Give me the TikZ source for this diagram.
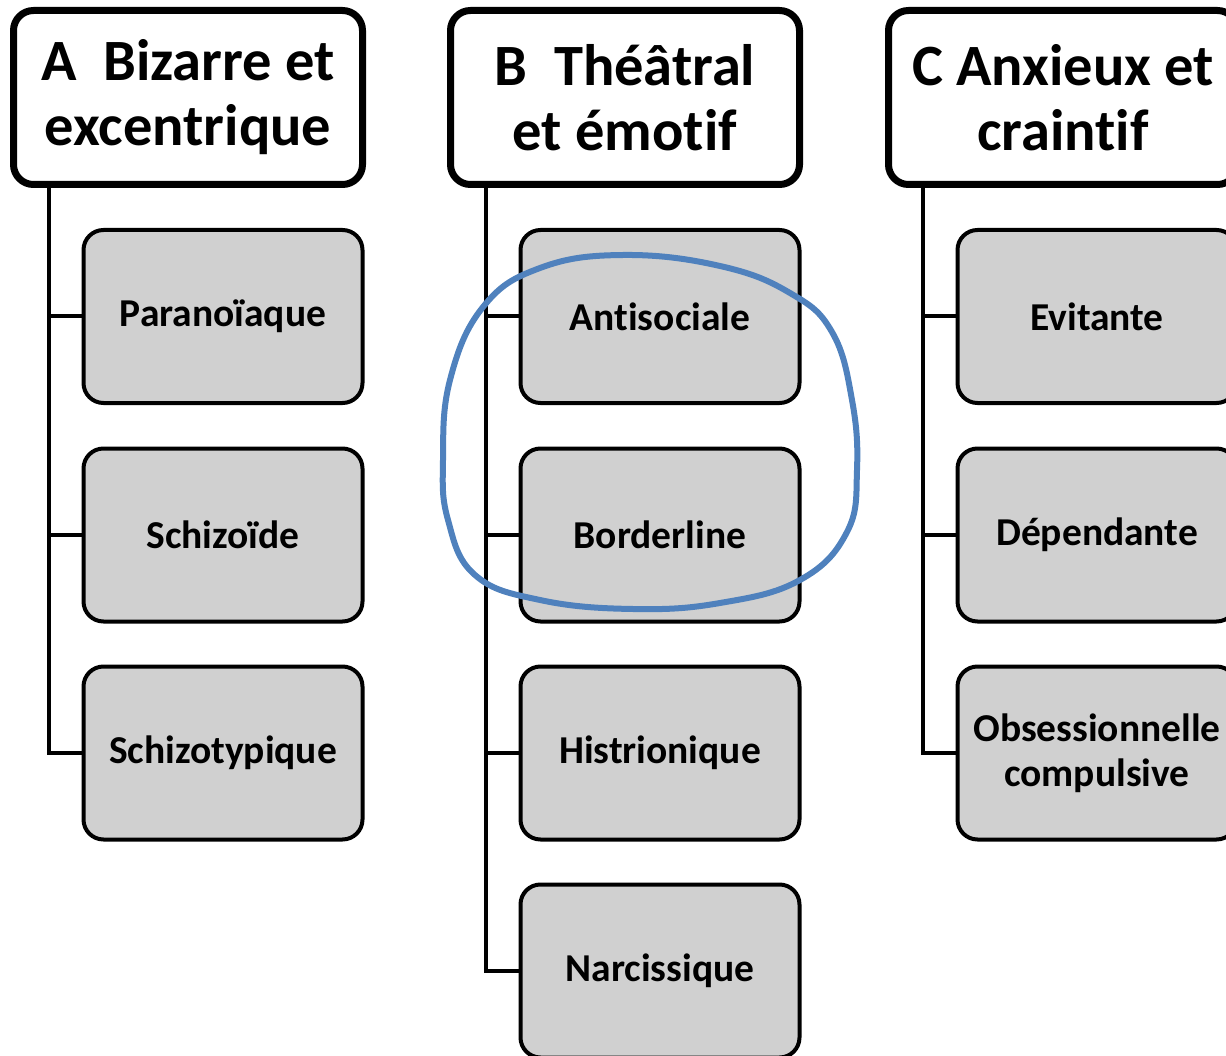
\documentclass[tikz,border=0pt]{standalone}
\usepackage{fontspec}
\setmainfont[Ligatures=NoCommon]{Carlito}
\begin{document}
\begin{tikzpicture}[x=1pt,y=-1pt,
  hdr/.style={draw=black, line width=7pt, rounded corners=20pt, fill=white,
    minimum width=349pt, minimum height=174pt, inner sep=0pt, align=center,
    font=\bfseries\fontsize{58.5}{65}\selectfont},
  item/.style={draw=black, line width=4pt, rounded corners=20pt, fill=boxgray,
    minimum width=279pt, minimum height=173pt, inner sep=0pt, align=center,
    font=\bfseries\fontsize{39.5}{45}\selectfont},
  bus/.style={draw=black, line width=4pt, line join=miter}
]
\definecolor{boxgray}{RGB}{208,208,208}
\definecolor{circblue}{RGB}{79,129,189}
\clip (0,0) rectangle (1226,1056);
\fill[white] (0,0) rectangle (1226,1056);

% column coordinates for the buses
\coordinate (xA) at (49,0);
\coordinate (xB) at (486,0);
\coordinate (xC) at (923,0);

% headers
\node[hdr] (hA) at (188,97.5) {A\ \ Bizarre et\\excentrique};
\node[hdr] (hB) at (625,97.5) {B\ \ Théâtral\\et émotif};
\node[hdr] (hC) at (1063,97.5) {C Anxieux et\\craintif};

% column A
\node[item] (a1) at (223,316.5) {Paranoïaque};
\node[item] (a2) at (223,535) {Schizoïde};
\node[item] (a3) at (223,753) {Schizotypique};

% column B
\node[item] (b1) at (660,316.5) {Antisociale};
\node[item] (b2) at (660,535) {Borderline};
\node[item] (b3) at (660,753) {Histrionique};
\node[item] (b4) at (660,971) {Narcissique};

% column C
\node[item] (c1) at (1097,316.5) {Evitante};
\node[item] (c2) at (1097,535) {Dépendante};
\node[item] (c3) at (1097,753) {Obsessionnelle\\compulsive};

% buses
\draw[bus] (xA |- hA.south) |- (a3.west);
\draw[bus] (xA |- a1.west) -- (a1.west);
\draw[bus] (xA |- a2.west) -- (a2.west);

\draw[bus] (xB |- hB.south) |- (b4.west);
\draw[bus] (xB |- b1.west) -- (b1.west);
\draw[bus] (xB |- b2.west) -- (b2.west);
\draw[bus] (xB |- b3.west) -- (b3.west);

\draw[bus] (xC |- hC.south) |- (c3.west);
\draw[bus] (xC |- c1.west) -- (c1.west);
\draw[bus] (xC |- c2.west) -- (c2.west);

% blue freehand loop around Antisociale and Borderline
\draw[circblue, line width=6pt, line cap=round, line join=round]
  plot[smooth cycle, tension=0.7] coordinates {
    (623,255) (720,266) (790,293) (832,332) (852,400) (857,470)
    (847,532) (800,580) (720,603) (633,609) (540,600) (475,575)
    (448,520) (443,460) (450,380) (483,307) (540,268)
  };
\end{tikzpicture}
\end{document}
